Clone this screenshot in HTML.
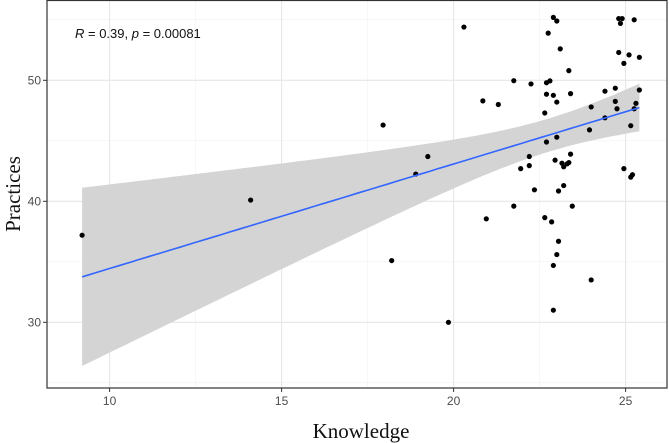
<!DOCTYPE html>
<html><head><meta charset="utf-8"><style>
html,body{margin:0;padding:0;background:#fff;}
svg{display:block;}
</style></head><body>
<svg id="chart" width="669" height="443" xmlns="http://www.w3.org/2000/svg">
<rect width="669" height="443" fill="#fff"/>
<g id="grid"></g>
<g id="ribbon"></g>
<g id="points"></g>
<g id="line"></g>
<rect x="47" y="0.5" width="620" height="387.5" fill="none" stroke="#333" stroke-width="1.2"/>
<g id="axes"></g>
<text x="75" y="38" font-family="Liberation Sans, sans-serif" font-size="13" fill="#111"><tspan font-style="italic">R</tspan> = 0.39, <tspan font-style="italic">p</tspan> = 0.00081</text>
<text x="361" y="438" text-anchor="middle" font-family="Liberation Serif, serif" font-size="21" fill="#111">Knowledge</text>
<text transform="translate(20,194) rotate(-90)" text-anchor="middle" font-family="Liberation Serif, serif" font-size="21" fill="#111">Practices</text>
</svg>
<script>
const knowledge = [20.3,22.9,23.0,22.75,23.1,23.35,21.75,22.25,22.7,22.8,22.7,22.9,23.0,23.4,20.85,21.3,22.65,24.0,24.4,24.7,24.7,24.75,24.4,24.8,24.9,24.85,25.25,24.8,25.1,24.95,25.4,25.4,25.3,25.25,25.15,23.95,23.0,22.7,19.25,22.2,23.4,22.95,23.15,23.2,23.3,23.35,22.2,21.95,24.95,25.2,25.15,22.35,23.05,23.2,21.75,23.45,20.95,22.65,22.85,23.05,23.0,22.9,24.0,22.9,19.85,9.2,14.1,17.95,18.2,18.9];
const practices = [54.4,55.2,54.9,53.9,52.6,50.8,49.97,49.7,49.8,49.95,48.85,48.76,48.2,48.9,48.3,48.0,47.3,47.8,49.1,49.35,48.26,47.65,46.9,55.1,55.1,54.7,55.0,52.3,52.1,51.4,51.9,49.2,48.1,47.65,46.25,45.9,45.3,44.9,43.7,43.7,43.9,43.4,43.15,42.85,43.1,43.2,42.95,42.7,42.7,42.2,42.0,40.95,40.85,41.3,39.6,39.6,38.55,38.65,38.3,36.7,35.6,34.7,33.5,31.0,30.0,37.2,40.1,46.3,35.1,42.25];
const xTicks = [10,15,20,25];
const yTicks = [30,40,50];
const xMinor = [12.5,17.5,22.5];
const yMinor = [25,35,45,55];

const NS="http://www.w3.org/2000/svg";
const X0=47,X1=667,Y0=0.5,Y1=388;
function sx(v){return 109.6+(v-10)*34.4;}
function sy(v){return 80.3+(50-v)*12.1;}
function mk(tag,attrs,parent){const e=document.createElementNS(NS,tag);for(const k in attrs)e.setAttribute(k,attrs[k]);parent.appendChild(e);return e;}

const grid=document.getElementById('grid');
xMinor.forEach(v=>{const l=mk('line',{x1:sx(v),x2:sx(v),y1:Y0,y2:Y1,stroke:'#f2f2f2','stroke-width':0.6},grid);

});
yMinor.forEach(v=>{const l=mk('line',{x1:X0,x2:X1,y1:sy(v),y2:sy(v),stroke:'#f2f2f2','stroke-width':0.6},grid);

});
xTicks.forEach(v=>{const l=mk('line',{x1:sx(v),x2:sx(v),y1:Y0,y2:Y1,stroke:'#e6e6e6','stroke-width':1.1},grid);

});
yTicks.forEach(v=>{const l=mk('line',{x1:X0,x2:X1,y1:sy(v),y2:sy(v),stroke:'#e6e6e6','stroke-width':1.1},grid);

});

const axes=document.getElementById('axes');
xTicks.forEach(v=>{
 const t=mk('line',{x1:sx(v),x2:sx(v),y1:Y1,y2:Y1+4,stroke:'#333','stroke-width':1},axes);
 
 
 const tx=mk('text',{x:sx(v),y:Y1+17,'text-anchor':'middle','font-family':'Liberation Sans, sans-serif','font-size':12,fill:'#4d4d4d'},axes);
 tx.textContent=v;
 
 
});
yTicks.forEach(v=>{
 const t=mk('line',{x1:X0-4,x2:X0,y1:sy(v),y2:sy(v),stroke:'#333','stroke-width':1},axes);
 
 
 const tx=mk('text',{x:X0-6,y:sy(v)+4,'text-anchor':'end','font-family':'Liberation Sans, sans-serif','font-size':12,fill:'#4d4d4d'},axes);
 tx.textContent=v;
 
 
});

// linear fit with 95% CI
const n=knowledge.length;
const xm=knowledge.reduce((a,b)=>a+b,0)/n, ym=practices.reduce((a,b)=>a+b,0)/n;
let sxx=0,sxy=0;for(let i=0;i<n;i++){sxx+=(knowledge[i]-xm)**2;sxy+=(knowledge[i]-xm)*(practices[i]-ym);}
const b=sxy/sxx,a=ym-b*xm;
let sse=0;for(let i=0;i<n;i++){sse+=(practices[i]-a-b*knowledge[i])**2;}
const s=Math.sqrt(sse/(n-2)),tq=1.995;
const kmin=Math.min(...knowledge),kmax=Math.max(...knowledge);
const up=[],lo=[],ln=[];
for(let i=0;i<=80;i++){const x=kmin+(kmax-kmin)*i/80;const f=a+b*x;const se=s*Math.sqrt(1/n+(x-xm)**2/sxx);
 up.push(sx(x).toFixed(1)+','+sy(f+tq*se).toFixed(1));lo.unshift(sx(x).toFixed(1)+','+sy(f-tq*se).toFixed(1));ln.push(sx(x).toFixed(1)+','+sy(f).toFixed(1));}
const rb=mk('polygon',{points:up.concat(lo).join(' '),fill:'#d4d4d4'},document.getElementById('ribbon'));


const pl=mk('polyline',{points:ln.join(' '),fill:'none',stroke:'#3366ff','stroke-width':1.6},document.getElementById('line'));



const pts=document.getElementById('points');
for(let i=0;i<n;i++){
 const c=mk('circle',{cx:sx(knowledge[i]),cy:sy(practices[i]),r:2.6,fill:'#000'},pts);
 
 
}
</script>
</body></html>
